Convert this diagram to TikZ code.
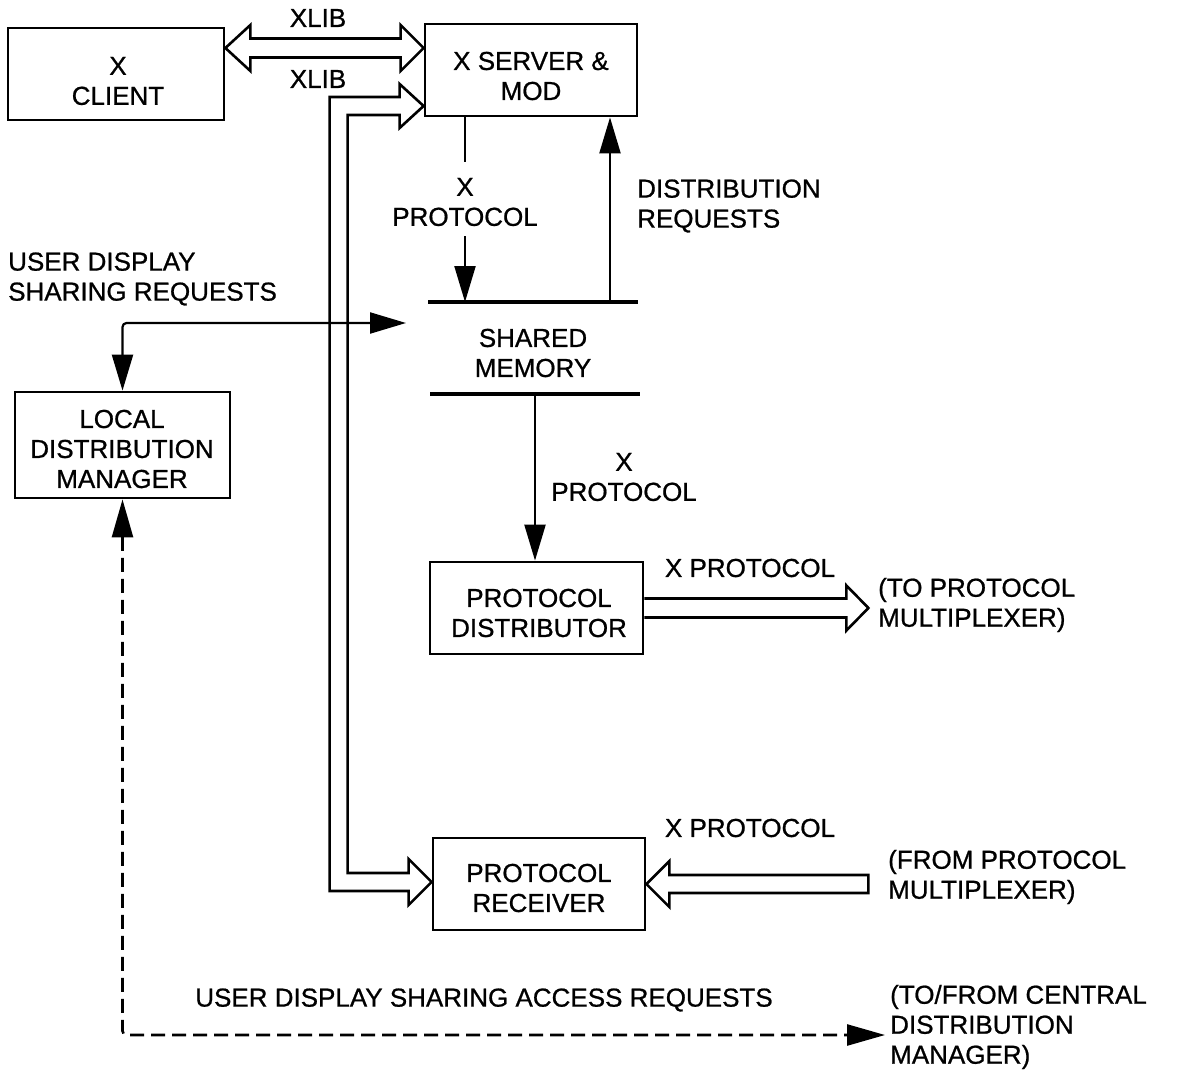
\documentclass[tikz,border=0pt]{standalone}
\usepackage{fontspec}
\setmainfont{Liberation Sans}[FakeBold=0.8]
\usetikzlibrary{arrows.meta,calc}
\begin{document}
\begin{tikzpicture}[x=1pt,y=-1pt,
  font=\fontsize{26}{30}\selectfont,
  box/.style={draw, line width=2.8pt, inner sep=0pt},
  txt/.style={inner sep=0pt, align=center},
  ltxt/.style={inner sep=0pt, align=left, anchor=west},
  hollow/.style={draw, line width=2.6pt, line join=miter},
  thinarrow/.style={line width=2.2pt, -{Triangle[length=36pt,width=21pt]}},
  biarrow/.style={line width=2.2pt, {Triangle[length=36pt,width=21pt]}-{Triangle[length=36pt,width=21pt]}, rounded corners=4pt},
  dasharrow/.style={line width=2.6pt, dash pattern=on 14pt off 7pt, {Triangle[length=38pt,width=21pt]}-{Triangle[length=38pt,width=21pt]}, rounded corners=4pt},
  memline/.style={line width=3.2pt}]
\fill[white] (0,0) rectangle (1187,1073);
\useasboundingbox (0,0) rectangle (1187,1073);

% boxes
\node[box, minimum width=216pt, minimum height=92pt] (client) at (116,74) {};
\node[txt] (clientT) at (118,81) {X\\CLIENT};
\node[box, minimum width=212pt, minimum height=92pt] (server) at (531,70) {};
\node[txt] (serverT) at (531,76) {X SERVER \&\\MOD};
\node[box, minimum width=215pt, minimum height=106pt] (ldm) at (122.5,445) {};
\node[txt] (ldmT) at (122,449) {LOCAL\\DISTRIBUTION\\MANAGER};
\node[box, minimum width=213pt, minimum height=92pt] (dist) at (536.5,608) {};
\node[txt] (distT) at (539,613) {PROTOCOL\\DISTRIBUTOR};
\node[box, minimum width=212pt, minimum height=92pt] (rcv) at (539,884) {};
\node[txt] (rcvT) at (539,888) {PROTOCOL\\RECEIVER};

% shared memory
\coordinate (smt) at (533,302);
\coordinate (smb) at (535,394);
\draw[memline] ($(smt)+(-105,0)$) -- ($(smt)+(105,0)$);
\draw[memline] ($(smb)+(-105,0)$) -- ($(smb)+(105,0)$);
\node[txt] (shm) at (533,353) {SHARED\\MEMORY};

% labels
\node[txt] (xlib1) at (318,18) {XLIB};
\node[txt] (xlib2) at (318,79) {XLIB};
\node[txt] (xp1) at (465,202) {X\\PROTOCOL};
\node[ltxt] (dreq) at (637,206) {DISTRIBUTION\\REQUESTS};
\node[ltxt] (udsr) at (8,279) {USER DISPLAY\\SHARING REQUESTS};
\node[txt] (xp2) at (624,477) {X\\PROTOCOL};
\node[txt] (xp3) at (750,568) {X PROTOCOL};
\node[txt] (xp4) at (750,828) {X PROTOCOL};
\node[ltxt] (tpm) at (878,605) {(TO PROTOCOL\\MULTIPLEXER)};
\node[ltxt] (fpm) at (888,877) {(FROM PROTOCOL\\MULTIPLEXER)};
\node[ltxt] (cdm) at (890,1027) {(TO/FROM CENTRAL\\DISTRIBUTION\\MANAGER)};
\node[txt] (udsar) at (484,1000) {USER DISPLAY SHARING ACCESS REQUESTS};

% top XLIB double hollow arrow
\coordinate (ya) at (0,48);
\coordinate (L) at (client.east |- ya);
\coordinate (R) at (server.west |- ya);
\draw[hollow] (L) -- ($(L)+(25,-23)$) -- ($(L)+(25,-9.5)$) -- ($(R)+(-23,-9.5)$)
  -- ($(R)+(-23,-23)$) -- (R) -- ($(R)+(-23,23)$) -- ($(R)+(-23,9.5)$)
  -- ($(L)+(25,9.5)$) -- ($(L)+(25,23)$) -- cycle;

% elbow XLIB hollow arrow server <-> receiver
\coordinate (yb) at (0,106);
\coordinate (yc) at (0,882);
\coordinate (T1) at (server.west |- yb);
\coordinate (T2) at (rcv.west |- yc);
\draw[hollow] (T1) -- ($(T1)+(-24,-22)$) -- ($(T1)+(-24,-9)$) -- ($(T1)+(-94,-9)$)
  -- ($(T2)+(-102,9)$) -- ($(T2)+(-23,9)$) -- ($(T2)+(-23,23)$) -- (T2)
  -- ($(T2)+(-23,-23)$) -- ($(T2)+(-23,-9)$) -- ($(T2)+(-84,-9)$)
  -- ($(T1)+(-76,9)$) -- ($(T1)+(-24,9)$) -- ($(T1)+(-24,22)$) -- cycle;

% distributor out hollow arrow
\draw[hollow] ($(dist.east)+(0,-9.5)$) -- ($(dist.east)+(202,-9.5)$) -- ($(dist.east)+(202,-22.5)$)
  -- ($(dist.east)+(224,0)$) -- ($(dist.east)+(202,22.5)$) -- ($(dist.east)+(202,9.5)$)
  -- ($(dist.east)+(0,9.5)$);

% receiver in hollow arrow
\draw[hollow] ($(rcv.east)+(222,-9)$) -- ($(rcv.east)+(23,-9)$) -- ($(rcv.east)+(23,-23)$)
  -- (rcv.east) -- ($(rcv.east)+(23,23)$) -- ($(rcv.east)+(23,9)$) -- ($(rcv.east)+(222,9)$) -- cycle;

% X protocol server -> shared memory
\draw[line width=2.2pt] (server.south -| xp1) -- ($(xp1.north)+(0,-16)$);
\draw[thinarrow] ($(xp1.south)+(0,10)$) -- (xp1 |- smt);
% distribution requests
\coordinate (dr) at ($(smt)+(77,0)$);
\draw[thinarrow] (dr) -- (server.south -| dr);
% shared memory -> distributor
\draw[thinarrow] (smb) -- (dist.north -| smb);
% user display sharing requests
\coordinate (udr) at (406,323);
\draw[biarrow] (udr) -| (ldm.north);
% dashed access requests
\coordinate (cda) at (885,1035);
\draw[dasharrow] (ldm.south) |- (cda);
\end{tikzpicture}
\end{document}
